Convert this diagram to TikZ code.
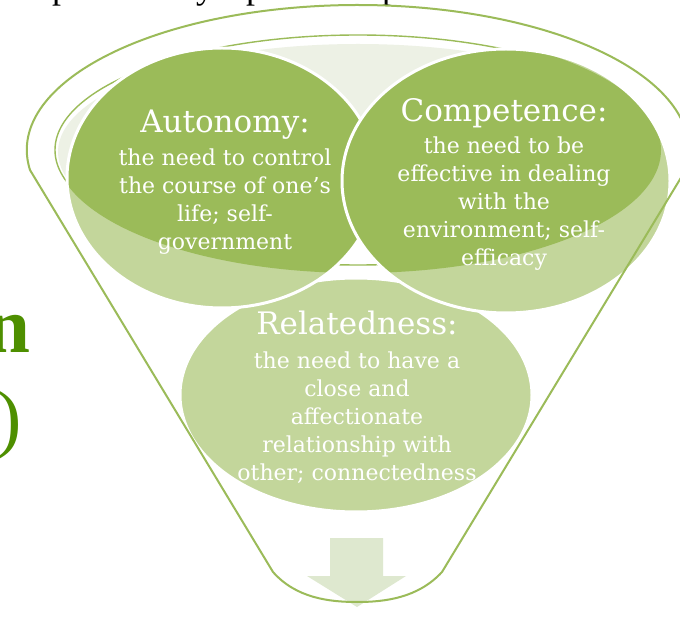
\documentclass[tikz,border=0pt]{standalone}
\usepackage{fontspec}
\setmainfont{DejaVu Serif}
\newfontfamily\titlefont{Liberation Serif}
\definecolor{leafdark}{HTML}{9BBB59}
\definecolor{leaflight}{HTML}{C3D69B}
\definecolor{rimfill}{HTML}{EDF1E5}
\definecolor{arrowfill}{HTML}{DEE8CF}
\definecolor{titlegreen}{RGB}{78,143,0}
\begin{document}
\begin{tikzpicture}[x=1pt,y=-1pt,
  ring/.style={draw=leafdark, line width=2pt, line join=round},
  petal/.style={draw=white, line width=3pt},
  headtxt/.style={text=white, font=\fontsize{31}{34}\selectfont, anchor=base, inner sep=0pt},
  bodytxt/.style={text=white, font=\fontsize{22}{28}\selectfont, anchor=north, align=center, inner sep=0pt},
  fragment/.style={text=black, font=\titlefont\fontsize{36}{40}\selectfont, anchor=base west, inner sep=0pt},
]
\useasboundingbox (0,0) rectangle (680,617);
\fill[white] (0,0) rectangle (680,617);
\clip (0,0) rectangle (680,617);

% centres of the funnel rim and the three needs
\coordinate (rim) at (358,150);
\coordinate (aut) at (222,178);
\coordinate (com) at (506,181);
\coordinate (rel) at (356,395);

% tails of the title lines around the figure
\node[fragment] (tp1) at (52,-1) {p};
\node[fragment] (ty1) at (196,-1) {y};
\node[fragment] (tp2) at (246,-1) {p};
\node[fragment] (tp3) at (382,-1) {p};
\node[anchor=base east, text=titlegreen, inner sep=0pt,
      font=\titlefont\bfseries\fontsize{79}{80}\selectfont] (tailN) at (31,353) {n};
\node[anchor=base east, text=titlegreen, inner sep=0pt,
      font=\titlefont\fontsize{76}{80}\selectfont] (tailP) at (22,443.5) {)};

% funnel rim: pale face (upper part only) and its inner edge
\begin{scope}
  \clip (0,0) rectangle (680,205);
  \fill[rimfill] (358,152) ellipse[x radius=300pt, y radius=108pt];
\end{scope}
\draw[ring, line width=1.4pt] (rim) ellipse[x radius=303pt, y radius=115pt];

% relatedness
\fill[leaflight] (rel) ellipse[x radius=176pt, y radius=117pt];
\draw[petal] (rel) ellipse[x radius=176pt, y radius=117pt];

% autonomy
\fill[leaflight] (aut) ellipse[x radius=155pt, y radius=130pt];
\begin{scope}
  \clip (rim) ellipse[x radius=303pt, y radius=123pt];
  \fill[leafdark] (aut) ellipse[x radius=155pt, y radius=130pt];
\end{scope}
\draw[petal] (aut) ellipse[x radius=155pt, y radius=130pt];

% competence
\fill[leaflight] (com) ellipse[x radius=164pt, y radius=132pt];
\begin{scope}
  \clip (rim) ellipse[x radius=303pt, y radius=123pt];
  \fill[leafdark] (com) ellipse[x radius=164pt, y radius=132pt];
\end{scope}
\draw[petal] (com) ellipse[x radius=164pt, y radius=132pt];

% outflow arrow
\fill[arrowfill] (330,538) -- (383,538) -- (383,576) -- (406,576) -- (357,607)
  -- (307,576) -- (330,576) -- cycle;

% funnel outline
\draw[ring] (30,170) arc[start angle=187.93, end angle=-7.93, x radius=331pt, y radius=145pt]
  -- (442,572) .. controls (418,598) and (385,602) .. (357,602)
  .. controls (329,602) and (296,598) .. (273,572) -- cycle;

% labels
\node[headtxt] (autHead) at (225,133) {Autonomy:};
\node[bodytxt] (autBody) at (225,147) {\rule{0pt}{18pt}the need to control\\the course of one’s\\life; self-\\government};
\node[headtxt] (comHead) at (504,122) {Competence:};
\node[bodytxt] (comBody) at (504,135) {\rule{0pt}{18pt}the need to be\\effective in dealing\\with the\\environment; self-\\efficacy};
\node[headtxt] (relHead) at (357,335) {Relatedness:};
\node[bodytxt] (relBody) at (357,350) {\rule{0pt}{18pt}the need to have a\\close and\\affectionate\\relationship with\\other; connectedness};
\end{tikzpicture}
\end{document}
